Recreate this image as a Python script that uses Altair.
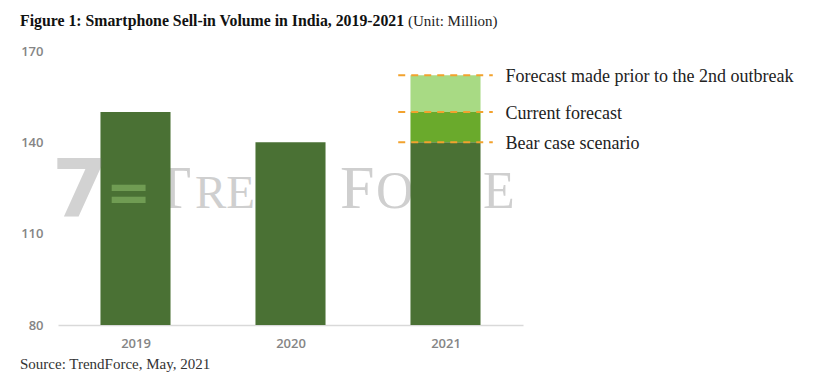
import altair as alt
import pandas as pd

# ---- data ----
years = [2019, 2020, 2021, 2021, 2021]
seg_start = [80, 80, 80, 140, 150]
seg_end = [150, 140, 140, 150, 162]
seg_name = ["Actual", "Actual", "Bear case", "Current", "Prior"]

line_values = [162, 150, 140]
line_labels = ["Forecast made prior to the 2nd outbreak", "Current forecast", "Bear case scenario"]
line_year = [2021, 2021, 2021]

y_ticks = [80, 110, 140, 170]
x_ticks = [2019, 2020, 2021]

title_bold = "Figure 1: Smartphone Sell-in Volume in India, 2019-2021"
title_unit = "(Unit: Million)"
source_text = "Source: TrendForce, May, 2021"

bars = pd.DataFrame({"year": years, "start": seg_start, "end": seg_end, "seg": seg_name})
lines = pd.DataFrame({"year": line_year, "value": line_values, "label": line_labels})

SERIF = "Liberation Serif"
x_scale = alt.Scale(domain=[2018.5, 2021.5], nice=False, zero=False)
y_scale = alt.Scale(domain=[80, 170], nice=False, zero=False)

color_scale = alt.Scale(
    domain=["Actual", "Bear case", "Current", "Prior"],
    range=["#4a7134", "#4a7134", "#6aaa2c", "#a8da84"],
)


def txt(s, x, y, size, color, weight="normal", font=SERIF, opacity=1.0):
    return alt.Chart(pd.DataFrame({"t": [s]})).mark_text(
        font=font, fontSize=size, fontWeight=weight, color=color, opacity=opacity,
        align="left", baseline="alphabetic"
    ).encode(x=alt.value(x), y=alt.value(y), text="t:N")


bar_layer = alt.Chart(bars).transform_calculate(
    x1="datum.year - 0.226", x2="datum.year + 0.226"
).mark_rect().encode(
    x=alt.X("x1:Q", scale=x_scale,
            axis=alt.Axis(values=x_ticks, format="d", title=None, ticks=False, grid=False,
                          domainColor="#d9d9d9", domainWidth=1.5, labelColor="#858585",
                          labelFont="Open Sans", labelFontSize=13, labelFontWeight=600,
                          labelPadding=12)),
    x2="x2:Q",
    y=alt.Y("start:Q", scale=y_scale,
            axis=alt.Axis(values=y_ticks, title=None, ticks=False, grid=False, domain=False,
                          labelColor="#858585", labelFont="Open Sans", labelFontSize=13,
                          labelFontWeight=600, labelPadding=15)),
    y2="end:Q",
    color=alt.Color("seg:N", scale=color_scale, legend=None),
)

# watermark (decoration): wordmark behind the bars, logo over them
WM = "#cfcfcf"
wm_text = [
    txt("T", 95, 157, 62, WM),
    txt("REND", 137, 157, 47, WM),
    txt("F", 282, 157, 62, WM),
    txt("ORCE", 318, 157, 52, WM),
]
wm_logo = [
    txt("7", -6, 165, 80, "#808080", weight="bold", font="DejaVu Sans", opacity=0.35),
    txt("=", 48, 160, 54, "#9fd07a", weight="bold", font="DejaVu Sans", opacity=0.45),
]

rule_layer = alt.Chart(lines).transform_calculate(
    x1="datum.year - 0.305", x2="datum.year + 0.305"
).mark_rule(color="#f2a22e", strokeWidth=2, strokeDash=[7, 6]).encode(
    x=alt.X("x1:Q", scale=x_scale), x2="x2:Q", y=alt.Y("value:Q", scale=y_scale)
)

label_layer = alt.Chart(lines).mark_text(
    font=SERIF, fontSize=18, color="#222222", align="left", baseline="middle", dx=60, dy=2
).encode(x=alt.X("year:Q", scale=x_scale), y=alt.Y("value:Q", scale=y_scale), text="label:N")

title1 = txt(title_bold, -38, -25, 15.8, "#111111", weight="bold")
title2 = txt(title_unit, 350, -25, 15, "#222222")
source = txt(source_text, -38, 318, 15, "#333333")

chart = alt.layer(
    *wm_text, bar_layer, *wm_logo, rule_layer, label_layer, title1, title2, source
).properties(
    width=465, height=274,
    autosize=alt.AutoSizeParams(type="none"),
    padding={"left": 50, "top": 43, "right": 280, "bottom": 56},
    background="white",
).configure_view(stroke=None)

chart.save("out.html", embed_options={"renderer": "svg", "actions": False})
